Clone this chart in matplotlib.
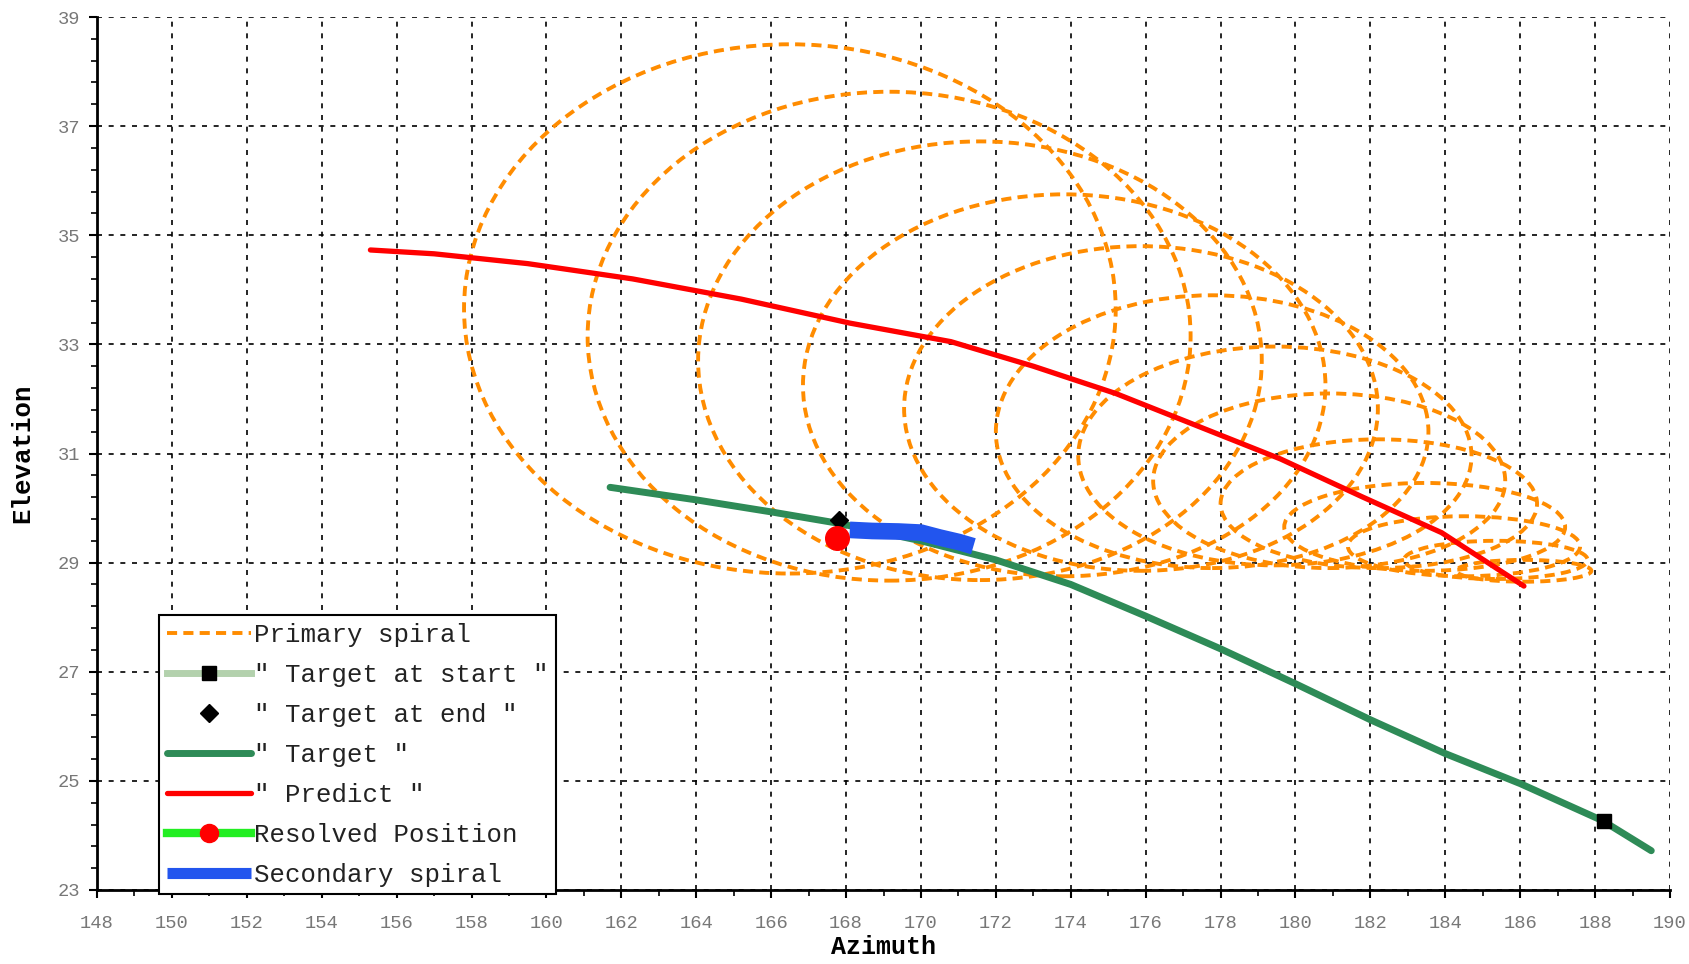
import matplotlib
matplotlib.use("Agg")
import matplotlib.pyplot as plt
import numpy as np
from matplotlib.patches import Ellipse

# primary spiral loops (left/right/top/bottom edges)
loop_left = [157.8, 161.1, 164.05, 166.85, 169.55, 172.0, 174.2, 176.2, 178.0, 179.7, 181.4, 182.9, 184.3]
loop_right = [175.2, 177.2, 179.1, 180.8, 182.2, 183.55, 184.7, 185.6, 186.45, 187.2, 187.6, 187.8, 187.9]
loop_top = [38.5, 37.63, 36.72, 35.75, 34.8, 33.9, 32.96, 32.1, 31.26, 30.46, 29.85, 29.4, 29.05]
loop_bottom = [28.8, 28.67, 28.68, 28.75, 28.85, 28.9, 28.95, 28.9, 28.9, 28.85, 28.75, 28.7, 28.65]

# target track
target_az = [161.7, 164.0, 166.0, 167.8, 170.0, 172.0, 174.0, 176.0, 178.0, 180.0, 182.0, 184.0, 186.0, 188.2, 189.5]
target_el = [30.38, 30.15, 29.93, 29.72, 29.4, 29.05, 28.6, 28.02, 27.42, 26.78, 26.12, 25.5, 24.95, 24.27, 23.72]

# predicted track
predict_az = [155.3, 157.0, 159.5, 162.3, 165.2, 168.1, 170.8, 173.0, 175.2, 177.4, 179.6, 181.8, 183.9, 186.1]
predict_el = [34.73, 34.66, 34.48, 34.2, 33.83, 33.39, 33.05, 32.6, 32.1, 31.5, 30.9, 30.2, 29.55, 28.57]

# secondary spiral band
secondary_az = [168.1, 168.7, 169.4, 170.0, 170.5, 171.0, 171.4]
secondary_el = [29.6, 29.58, 29.57, 29.55, 29.46, 29.38, 29.3]

start_az, start_el = [188.23], [24.26]
end_az, end_el = [167.8], [29.78]
resolved_az, resolved_el = [167.77], [29.45]

x_ticks = list(range(148, 191, 2))
y_ticks = list(range(23, 40, 2))

mono = "Liberation Mono"

fig = plt.figure(figsize=(16.89, 9.64), dpi=100)
ax = fig.add_axes([97 / 1689, 1 - 890 / 964, 1573 / 1689, 873 / 964])

orange = "#ff8c00"
for l, r, t, b in zip(loop_left, loop_right, loop_top, loop_bottom):
    ax.add_patch(Ellipse(((l + r) / 2, (t + b) / 2), r - l, t - b, fill=False,
                         edgecolor=orange, lw=2.8, linestyle=(0, (2.6, 1.6)), zorder=2))
ax.plot([], [], color=orange, lw=2.8, linestyle=(0, (2.6, 1.6)), label="Primary spiral")

ax.plot(start_az, start_el, color="#b3d1ad", lw=5, marker="s", ms=10, mfc="black", mec="black",
        zorder=6, label='" Target at start "')
ax.plot(end_az, end_el, ls="none", marker="D", ms=9, color="black", zorder=6,
        label='" Target at end "')
ax.plot(target_az, target_el, color="#2e8b57", lw=5, solid_capstyle="round", zorder=3,
        label='" Target "')
ax.plot(predict_az, predict_el, color="red", lw=3.8, solid_capstyle="round", zorder=4,
        label='" Predict "')
ax.plot(resolved_az, resolved_el, color="#22ee22", lw=6, marker="o", ms=17, mfc="red", mec="red",
        zorder=7, label="Resolved Position")
ax.plot(secondary_az, secondary_el, color="#2255ee", lw=12, solid_capstyle="butt", zorder=5,
        label="Secondary spiral")

ax.set_xlim(148, 190)
ax.set_ylim(23, 39)
ax.set_xticks(x_ticks)
ax.set_xticks(np.arange(148, 190.5, 1), minor=True)
ax.set_yticks(y_ticks)
ax.set_yticks(np.arange(23, 39.1, 0.4), minor=True)

ax.grid(True, which="major", color="black", lw=1.2, linestyle=(0, (3, 4)), zorder=0)
ax.set_axisbelow(True)
for s in ["top", "right"]:
    ax.spines[s].set_visible(False)
for s in ["left", "bottom"]:
    ax.spines[s].set_linewidth(2)

ax.tick_params(which="major", length=6, width=1.5, labelsize=13.5, labelcolor="#777777")
ax.tick_params(which="minor", length=4, width=1.2)
ax.tick_params(axis="x", which="major", pad=12)
ax.tick_params(axis="y", which="major", pad=6)
for lab in ax.get_xticklabels() + ax.get_yticklabels():
    lab.set_family(mono)

ax.set_xlabel("Azimuth", fontsize=18, fontweight="bold", family=mono, va="baseline")
ax.set_ylabel("Elevation", fontsize=18.5, fontweight="bold", family=mono)
ax.xaxis.set_label_coords(0.5, -0.0735)
ax.yaxis.set_label_coords(-0.04, 0.5)

leg = ax.legend(loc="lower left", bbox_to_anchor=(0.0394, -0.005), borderaxespad=0,
                prop={"family": mono, "size": 18.5}, handlelength=3.3, handletextpad=0.1,
                labelspacing=0.62, borderpad=0.3, fancybox=False, framealpha=1,
                edgecolor="black")
leg.get_frame().set_linewidth(1.5)
leg.set_zorder(10)
for txt in leg.get_texts():
    txt.set_color("#222222")
h = leg.legend_handles
h[5].set_markersize(13)
h[6].set_linewidth(8)

fig.savefig("out.png", dpi=100)
